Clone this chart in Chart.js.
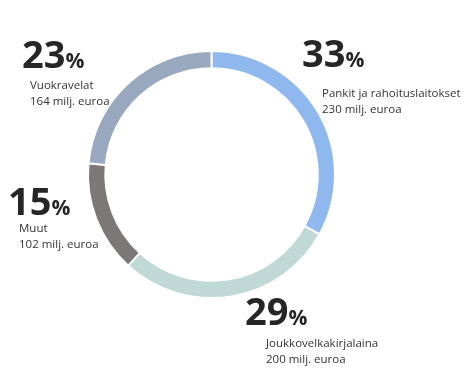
<!DOCTYPE html>
<html>
<head>
<meta charset="utf-8">
<script src="https://cdn.jsdelivr.net/npm/chart.js@4"></script>
<style>
  html, body { margin: 0; padding: 0; background: #fff; }
  #wrap { position: relative; width: 471px; height: 382px; }
</style>
</head>
<body>
<div id="wrap"><canvas id="myChart"></canvas></div>
<script>
// data
const categories = ['Pankit ja rahoituslaitokset', 'Joukkovelkakirjalaina', 'Muut', 'Vuokravelat'];
const amounts = [230, 200, 102, 164];
const shares = [33, 29, 15, 23];
const amountLabels = ['230 milj. euroa', '200 milj. euroa', '102 milj. euroa', '164 milj. euroa'];
const colors = ['#8fb9ee', '#c0d9d7', '#7d7878', '#98a8bf'];

// label blocks: big number at (x, y), text lines start at tx, ty
const labelPos = [
    { x: 302, y: 67, tx: 322, ty: 97 },
    { x: 245, y: 325, tx: 266, ty: 347 },
    { x: 8, y: 215, tx: 19, ty: 232 },
    { x: 22, y: 68, tx: 30, ty: 89 }
];

const labelPlugin = {
    id: 'labelPlugin',
    afterDraw(chart) {
        const ctx = chart.ctx;
        ctx.save();
        ctx.textBaseline = 'alphabetic';
        ctx.textAlign = 'left';
        categories.forEach((cat, i) => {
            const p = labelPos[i];
            ctx.fillStyle = '#262626';
            ctx.font = 'bold 38px "Open Sans"';
            const num = String(shares[i]);
            ctx.fillText(num, p.x, p.y);
            const w = ctx.measureText(num).width;
            ctx.font = 'bold 21px "Open Sans"';
            ctx.fillText('%', p.x + w, p.y);
            ctx.fillStyle = '#333';
            ctx.font = '11.5px "Open Sans"';
            ctx.fillText(cat, p.tx, p.ty);
            ctx.fillText(amountLabels[i], p.tx, p.ty + 16);
        });
        ctx.restore();
    }
};

const myChart = document.getElementById('myChart').getContext('2d');

const chart = new Chart(myChart, {
    type: 'doughnut',
    data: {
        labels: categories,
        datasets: [{
            data: amounts,
            backgroundColor: colors,
            borderColor: '#ffffff',
            borderWidth: 2
        }]
    },
    options: {
        responsive: true,
        maintainAspectRatio: false,
        animation: false,
        cutout: '86%',
        layout: {
            padding: { left: 87, right: 135, top: 50, bottom: 83 }
        },
        plugins: {
            legend: { display: false },
            tooltip: { enabled: false }
        }
    },
    plugins: [labelPlugin]
});
</script>
</body>
</html>
